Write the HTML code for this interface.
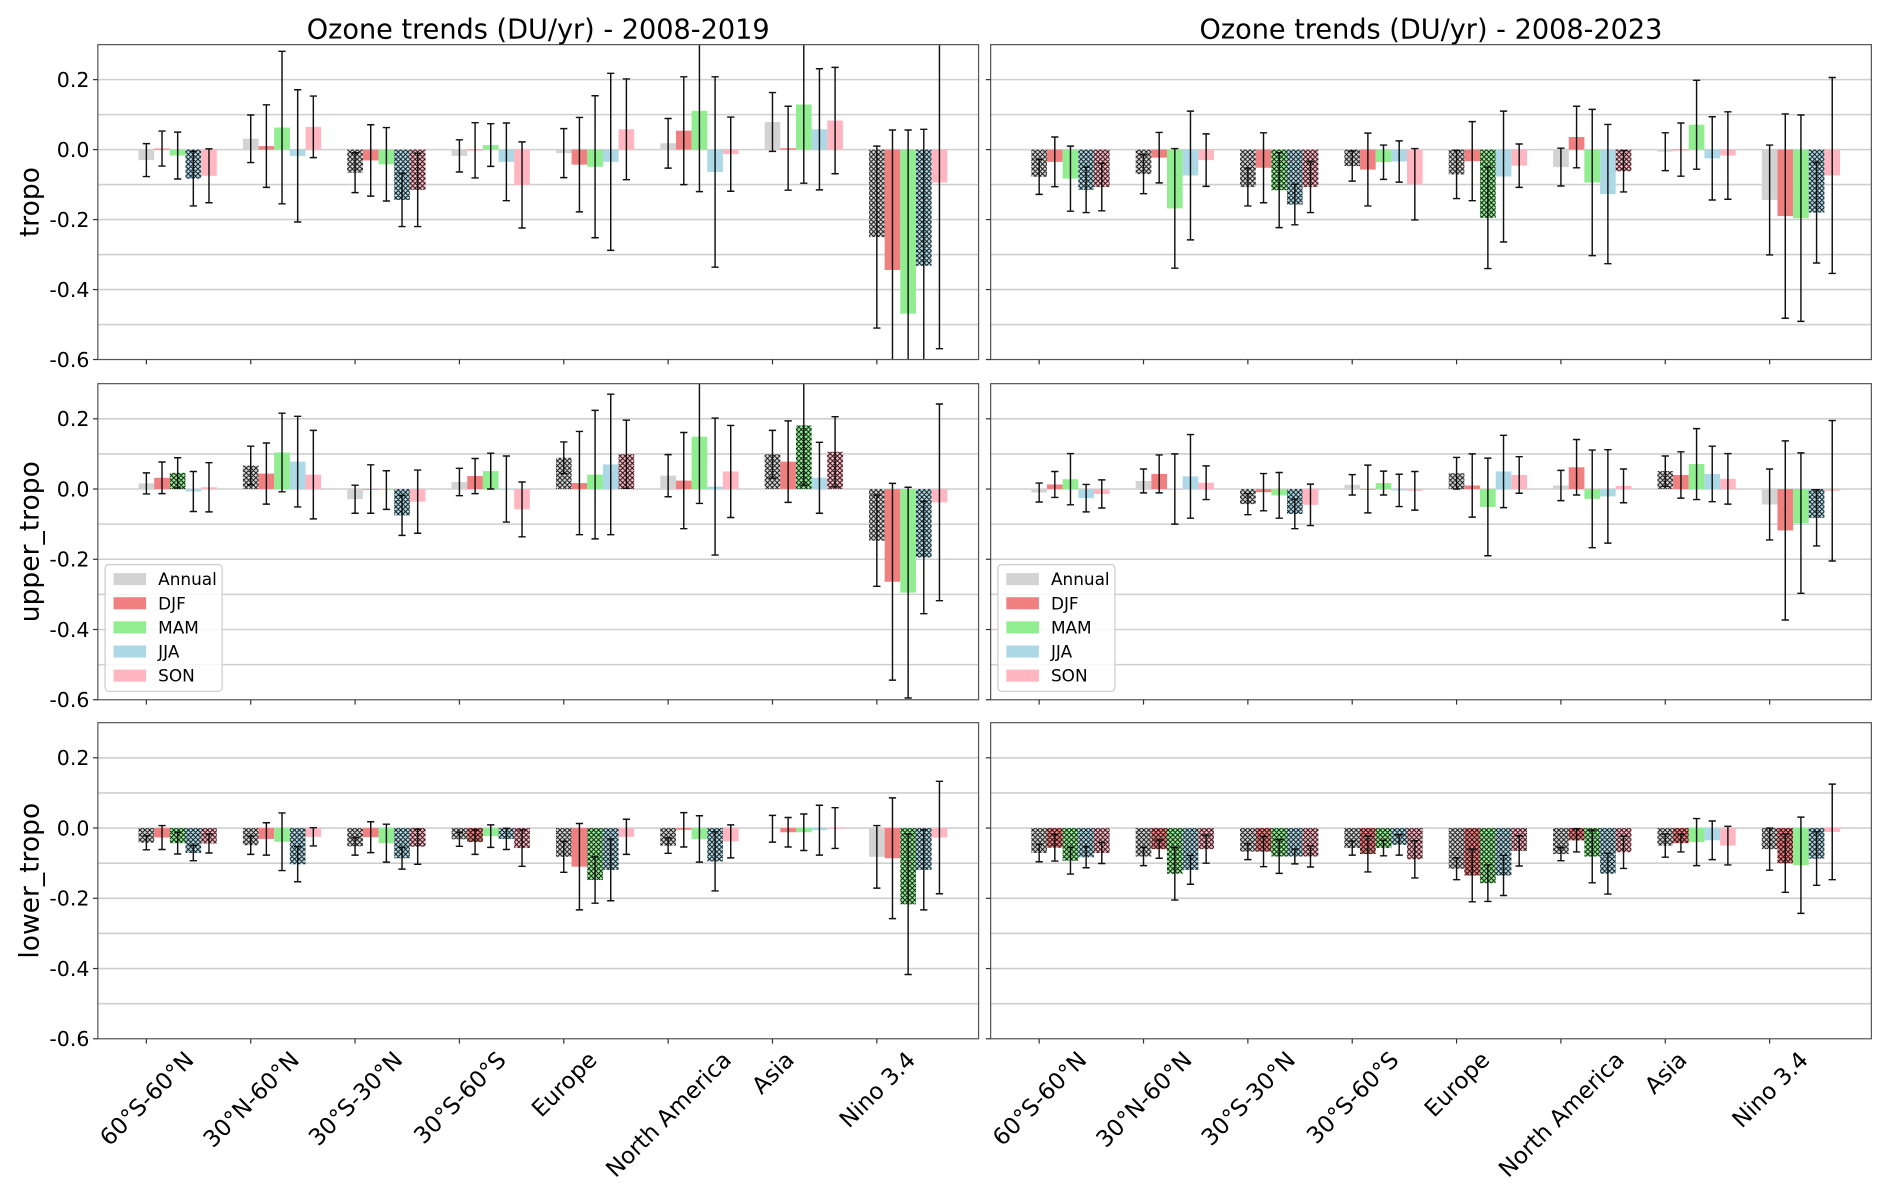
<!DOCTYPE html>
<html><head><meta charset="utf-8"><style>
html,body{margin:0;padding:0;background:#fff;}
svg{display:block;font-family:"DejaVu Sans","Liberation Sans",sans-serif;}
</style></head><body>
<svg id="chart" width="1892" height="1192" viewBox="0 0 1568 988" xmlns="http://www.w3.org/2000/svg">
<defs>
<pattern id="hatch" patternUnits="userSpaceOnUse" width="4" height="4">
<path d="M0,0 L4,4 M4,0 L0,4 M-1,3 L1,5 M3,-1 L5,1 M3,5 L5,3 M-1,1 L1,-1" stroke="#000" stroke-width="0.7"/>
</pattern>
</defs>
</svg>
<script>
const regions = ["60°S-60°N","30°N-60°N","30°S-30°N","30°S-60°S","Europe","North America","Asia","Nino 3.4"];
const seasons = ["Annual","DJF","MAM","JJA","SON"];
const yTicks = [0.2,0.0,-0.2,-0.4,-0.6];
const yTickLabels = ["0.2","0.0","-0.2","-0.4","-0.6"];
const rowNames = ["tropo","upper_tropo","lower_tropo"];
const colTitles = ["Ozone trends (DU/yr) - 2008-2019","Ozone trends (DU/yr) - 2008-2023"];

// tropo 2008-2019
const tropo19_annual = [-0.03,0.031,-0.066,-0.018,-0.01,0.018,0.079,-0.25];
const tropo19_djf = [0.003,0.01,-0.031,-0.002,-0.043,0.054,0.004,-0.344];
const tropo19_mam = [-0.017,0.063,-0.042,0.013,-0.049,0.111,0.129,-0.469];
const tropo19_jja = [-0.083,-0.018,-0.144,-0.035,-0.035,-0.064,0.058,-0.332];
const tropo19_son = [-0.075,0.065,-0.115,-0.101,0.058,-0.013,0.083,-0.094];
const tropo19_annual_err = [0.047,0.068,0.057,0.046,0.07,0.071,0.084,0.26];
const tropo19_djf_err = [0.05,0.118,0.102,0.079,0.135,0.154,0.12,0.4];
const tropo19_mam_err = [0.067,0.218,0.105,0.061,0.203,0.231,0.225,0.525];
const tropo19_jja_err = [0.078,0.189,0.076,0.111,0.253,0.272,0.173,0.39];
const tropo19_son_err = [0.077,0.088,0.105,0.123,0.144,0.106,0.152,0.475];
const tropo19_hatch = ["00010","00000","10011","00000","00000","00000","00000","10010"];

// tropo 2008-2023
const tropo23_annual = [-0.078,-0.07,-0.107,-0.047,-0.071,-0.05,-0.006,-0.144];
const tropo23_djf = [-0.035,-0.023,-0.052,-0.057,-0.033,0.036,0.0,-0.19];
const tropo23_mam = [-0.083,-0.168,-0.116,-0.036,-0.195,-0.094,0.071,-0.196];
const tropo23_jja = [-0.115,-0.074,-0.157,-0.034,-0.077,-0.127,-0.025,-0.18];
const tropo23_son = [-0.107,-0.03,-0.107,-0.099,-0.046,-0.062,-0.017,-0.074];
const tropo23_annual_err = [0.05,0.056,0.054,0.043,0.069,0.054,0.054,0.157];
const tropo23_djf_err = [0.071,0.072,0.1,0.104,0.113,0.088,0.076,0.292];
const tropo23_mam_err = [0.093,0.171,0.107,0.049,0.145,0.209,0.127,0.295];
const tropo23_jja_err = [0.065,0.184,0.058,0.059,0.187,0.199,0.119,0.144];
const tropo23_son_err = [0.068,0.075,0.073,0.102,0.062,0.059,0.125,0.28];
const tropo23_hatch = ["10011","10000","10111","10000","10100","00001","00000","00010"];

// upper_tropo 2008-2019
const upper19_annual = [0.016,0.067,-0.029,0.02,0.089,0.038,0.099,-0.147];
const upper19_djf = [0.032,0.044,0.0,0.037,0.017,0.024,0.078,-0.264];
const upper19_mam = [0.046,0.104,-0.003,0.051,0.041,0.149,0.181,-0.295];
const upper19_jja = [-0.007,0.078,-0.075,0.0,0.07,0.007,0.032,-0.195];
const upper19_son = [0.005,0.041,-0.036,-0.058,0.099,0.05,0.106,-0.038];
const upper19_annual_err = [0.03,0.055,0.04,0.039,0.045,0.06,0.068,0.13];
const upper19_djf_err = [0.045,0.087,0.069,0.05,0.147,0.137,0.116,0.28];
const upper19_mam_err = [0.043,0.112,0.055,0.051,0.183,0.19,0.17,0.3];
const upper19_jja_err = [0.057,0.129,0.057,0.094,0.2,0.195,0.101,0.16];
const upper19_son_err = [0.07,0.126,0.09,0.078,0.097,0.131,0.1,0.28];
const upper19_hatch = ["00100","10000","00010","00000","10001","00000","10101","10010"];

// upper_tropo 2008-2023
const upper23_annual = [-0.01,0.023,-0.043,0.012,0.045,0.01,0.051,-0.044];
const upper23_djf = [0.013,0.043,-0.009,0.0,0.01,0.062,0.04,-0.118];
const upper23_mam = [0.028,0.0,-0.018,0.017,-0.051,-0.028,0.071,-0.097];
const upper23_jja = [-0.026,0.036,-0.071,-0.004,0.05,-0.021,0.043,-0.082];
const upper23_son = [-0.014,0.018,-0.045,-0.005,0.04,0.009,0.029,-0.005];
const upper23_annual_err = [0.027,0.034,0.03,0.029,0.045,0.043,0.043,0.101];
const upper23_djf_err = [0.037,0.054,0.053,0.068,0.09,0.079,0.066,0.255];
const upper23_mam_err = [0.073,0.1,0.065,0.034,0.139,0.139,0.101,0.2];
const upper23_jja_err = [0.039,0.119,0.042,0.046,0.103,0.133,0.079,0.08];
const upper23_son_err = [0.04,0.048,0.059,0.055,0.052,0.048,0.072,0.2];
const upper23_hatch = ["00000","00000","10010","00000","10000","00000","10000","00010"];

// lower_tropo 2008-2019
const lower19_annual = [-0.042,-0.049,-0.052,-0.032,-0.082,-0.05,-0.002,-0.082];
const lower19_djf = [-0.027,-0.031,-0.026,-0.04,-0.11,-0.005,-0.012,-0.086];
const lower19_mam = [-0.043,-0.039,-0.043,-0.023,-0.148,-0.031,-0.012,-0.217];
const lower19_jja = [-0.071,-0.103,-0.086,-0.031,-0.119,-0.095,-0.006,-0.119];
const lower19_son = [-0.044,-0.025,-0.053,-0.057,-0.025,-0.038,0.0,-0.027];
const lower19_annual_err = [0.02,0.026,0.025,0.02,0.044,0.022,0.038,0.089];
const lower19_djf_err = [0.034,0.046,0.044,0.035,0.123,0.049,0.042,0.172];
const lower19_mam_err = [0.031,0.082,0.054,0.032,0.066,0.066,0.052,0.2];
const lower19_jja_err = [0.022,0.05,0.031,0.03,0.088,0.084,0.071,0.114];
const lower19_son_err = [0.027,0.026,0.05,0.052,0.05,0.047,0.058,0.16];
const lower19_hatch = ["10111","10010","10011","11011","10110","10010","00000","00110"];

// lower_tropo 2008-2023
const lower23_annual = [-0.071,-0.081,-0.067,-0.057,-0.116,-0.074,-0.05,-0.06];
const lower23_djf = [-0.056,-0.06,-0.067,-0.074,-0.135,-0.035,-0.043,-0.1];
const lower23_mam = [-0.093,-0.13,-0.081,-0.057,-0.157,-0.081,-0.04,-0.106];
const lower23_jja = [-0.083,-0.119,-0.081,-0.048,-0.135,-0.13,-0.035,-0.087];
const lower23_son = [-0.071,-0.06,-0.081,-0.089,-0.065,-0.069,-0.05,-0.011];
const lower23_annual_err = [0.025,0.026,0.023,0.02,0.031,0.019,0.033,0.06];
const lower23_djf_err = [0.038,0.026,0.043,0.051,0.075,0.033,0.025,0.083];
const lower23_mam_err = [0.038,0.075,0.048,0.022,0.052,0.075,0.067,0.137];
const lower23_jja_err = [0.03,0.041,0.021,0.029,0.057,0.058,0.055,0.076];
const lower23_son_err = [0.03,0.04,0.03,0.053,0.043,0.046,0.055,0.136];
const lower23_hatch = ["11111","11111","11111","11111","11111","11111","11000","11010"];

const panels = [
 [[tropo19_annual,tropo19_djf,tropo19_mam,tropo19_jja,tropo19_son],[tropo19_annual_err,tropo19_djf_err,tropo19_mam_err,tropo19_jja_err,tropo19_son_err],tropo19_hatch],
 [[tropo23_annual,tropo23_djf,tropo23_mam,tropo23_jja,tropo23_son],[tropo23_annual_err,tropo23_djf_err,tropo23_mam_err,tropo23_jja_err,tropo23_son_err],tropo23_hatch],
 [[upper19_annual,upper19_djf,upper19_mam,upper19_jja,upper19_son],[upper19_annual_err,upper19_djf_err,upper19_mam_err,upper19_jja_err,upper19_son_err],upper19_hatch],
 [[upper23_annual,upper23_djf,upper23_mam,upper23_jja,upper23_son],[upper23_annual_err,upper23_djf_err,upper23_mam_err,upper23_jja_err,upper23_son_err],upper23_hatch],
 [[lower19_annual,lower19_djf,lower19_mam,lower19_jja,lower19_son],[lower19_annual_err,lower19_djf_err,lower19_mam_err,lower19_jja_err,lower19_son_err],lower19_hatch],
 [[lower23_annual,lower23_djf,lower23_mam,lower23_jja,lower23_son],[lower23_annual_err,lower23_djf_err,lower23_mam_err,lower23_jja_err,lower23_son_err],lower23_hatch]
];

const colors = ["#d3d3d3","#f08080","#90ee90","#add8e6","#ffb6c1"];
const svg = document.getElementById('chart');
const NS = "http://www.w3.org/2000/svg";
function mk(tag, attrs, parent){const e=document.createElementNS(NS,tag);for(const k in attrs)e.setAttribute(k,attrs[k]);(parent||svg).appendChild(e);return e;}

const cols = [{x0:81,x1:811},{x0:821,x1:1551}];
const rows = [{y0:37,y1:298},{y0:318,y1:580},{y0:599,y1:861}];
const XMIN=-0.465, XMAX=7.975, YMIN=-0.6, YMAX=0.3, BW=0.15;

for(let r=0;r<3;r++){
 for(let c=0;c<2;c++){
  const P=cols[c], R=rows[r];
  const xS=v=>P.x0+(v-XMIN)/(XMAX-XMIN)*(P.x1-P.x0);
  const yS=v=>R.y0+(YMAX-v)/(YMAX-YMIN)*(R.y1-R.y0);
  const g=mk('g',{});
  
  
  const cid='clip'+r+c;
  const cp=mk('clipPath',{id:cid},g);
  mk('rect',{x:P.x0,y:R.y0,width:P.x1-P.x0,height:R.y1-R.y0},cp);
  for(let k=-5;k<=2;k++){
   const gl=mk('line',{x1:P.x0,x2:P.x1,y1:yS(k/10),y2:yS(k/10),stroke:'#cfcfcf','stroke-width':1.3},g);
   
   
  }
  const data=panels[r*2+c];
  const bars=mk('g',{'clip-path':'url(#'+cid+')'},g);
  for(let i=0;i<regions.length;i++){
   for(let s=0;s<5;s++){
    const v=data[0][s][i], e=data[1][s][i], h=data[2][i][s]==='1';
    const xc=xS(i+s*BW), w=xS(BW)-xS(0);
    const yt=yS(Math.max(v,0)), yb=yS(Math.min(v,0));
    const b=mk('rect',{x:xc-w/2,y:yt,width:w,height:Math.max(yb-yt,0.6),fill:colors[s]},bars);
    
    
    if(h){const hb=mk('rect',{x:xc-w/2,y:yt,width:w,height:Math.max(yb-yt,0.6),fill:'url(#hatch)'},bars);
     
     }
    const eb=mk('path',{d:`M${xc},${yS(v+e)}V${yS(v-e)}M${xc-3},${yS(v+e)}H${xc+3}M${xc-3},${yS(v-e)}H${xc+3}`,stroke:'#111','stroke-width':1.2,fill:'none'},bars);
    
    
   }
  }
  const fr=mk('rect',{x:P.x0,y:R.y0,width:P.x1-P.x0,height:R.y1-R.y0,fill:'none',stroke:'#555','stroke-width':1},g);
  
  
  for(let t=0;t<yTicks.length;t++){
   mk('line',{x1:P.x0-4,x2:P.x0,y1:yS(yTicks[t]),y2:yS(yTicks[t]),stroke:'#333','stroke-width':1},g);
   if(c===0){
    const tl=mk('text',{x:P.x0-7,y:yS(yTicks[t])+6,'text-anchor':'end','font-size':17,fill:'#000'},g);
    tl.textContent=yTickLabels[t];
    
    
   }
  }
  for(let i=0;i<regions.length;i++){
   mk('line',{x1:xS(i),x2:xS(i),y1:R.y1,y2:R.y1+4,stroke:'#333','stroke-width':1},g);
   if(r===2){
    const t=mk('text',{'text-anchor':'middle','font-size':19,fill:'#000'},g);
    t.textContent=regions[i];
    
    
    const L=t.getComputedTextLength();
    const half=(L+19)*0.707/2;
    const cx=xS(i), cy=R.y1+7+half;
    t.setAttribute('x',cx);t.setAttribute('y',cy+7);
    t.setAttribute('transform',`rotate(-45 ${cx} ${cy})`);
   }
  }
  if(c===0){
   const yl=mk('text',{x:0,y:0,'text-anchor':'middle','font-size':22,fill:'#000',transform:`translate(32 ${(R.y0+R.y1)/2}) rotate(-90)`},g);
   yl.textContent=rowNames[r];
   
   
  }
  if(r===0){
   const tt=mk('text',{x:(P.x0+P.x1)/2,y:32,'text-anchor':'middle','font-size':22.5,fill:'#000'},g);
   tt.textContent=colTitles[c];
   
   
  }
  if(r===1){
   const lg=mk('g',{},g);
   
   
   mk('rect',{x:P.x0+6,y:468,width:97,height:105,rx:3,fill:'#fff','fill-opacity':0.85,stroke:'#ccc','stroke-width':1},lg);
   for(let s=0;s<5;s++){
    const en=mk('g',{},lg);
    
    
    mk('rect',{x:P.x0+13,y:475+s*20,width:27,height:10,fill:colors[s]},en);
    const lt=mk('text',{x:P.x0+50,y:485+s*20,'font-size':14,fill:'#000'},en);
    lt.textContent=seasons[s];
   }
  }
 }
}
</script>
</body></html>
